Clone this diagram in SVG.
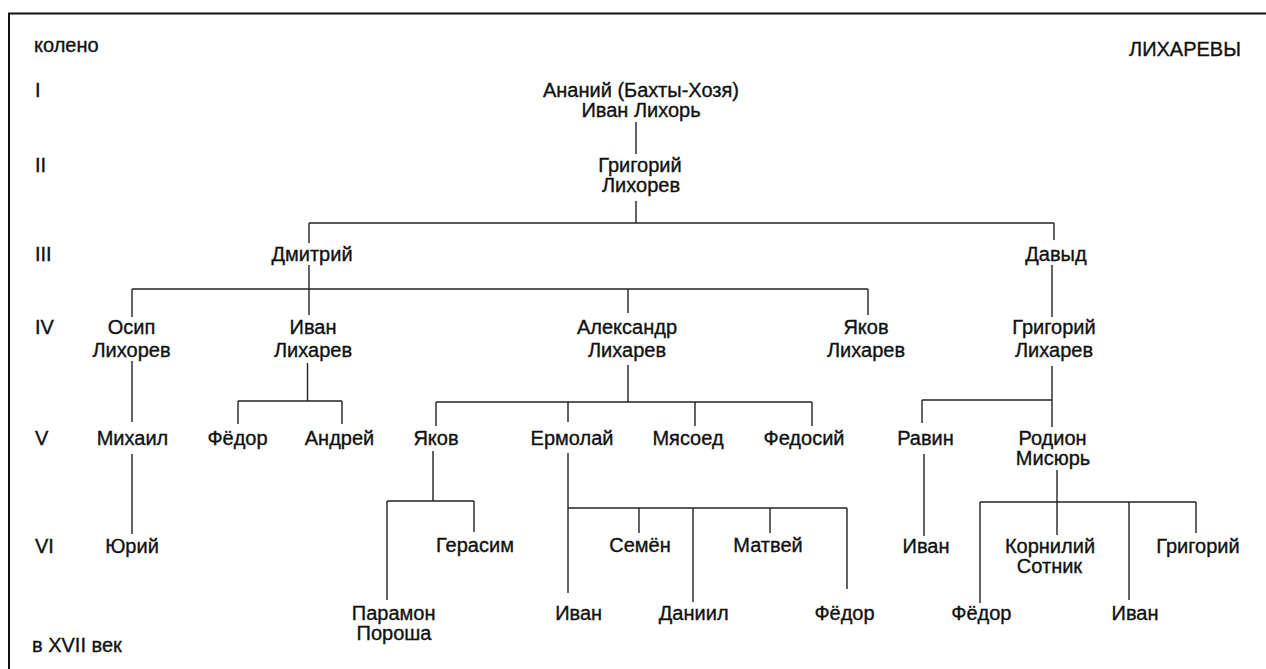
<svg xmlns="http://www.w3.org/2000/svg" width="1266" height="669" viewBox="0 0 1266 669">
<style>
text{font-family:"Liberation Sans",Arial,sans-serif;font-size:20px;fill:#111;stroke:#111;stroke-width:0.35}
.n text{text-anchor:middle}
.lab{text-anchor:start}
#connectors line{stroke:#222;stroke-width:1.4;fill:none}
.frame{stroke:#111;stroke-width:2;fill:none}
</style>
<rect width="1266" height="669" fill="#fff"/>
<path class="frame" d="M9,669 V13.5 H1266"/>
<g id="labels">
<text class="lab" x="34" y="52">колено</text>
<text class="lab" x="35" y="97">I</text>
<text class="lab" x="35" y="172">II</text>
<text class="lab" x="35" y="261">III</text>
<text class="lab" x="35" y="334">IV</text>
<text class="lab" x="35" y="445">V</text>
<text class="lab" x="35" y="553">VI</text>
<text class="lab" x="32" y="652">в XVII век</text>
<text class="lab" x="1129" y="56">ЛИХАРЕВЫ</text>
</g>
<g id="connectors">
<line x1="636" y1="122" x2="636" y2="154"/>
<line x1="636" y1="201" x2="636" y2="223"/>
<line x1="309" y1="223" x2="1054" y2="223"/>
<line x1="309" y1="223" x2="309" y2="243"/>
<line x1="309" y1="265" x2="309" y2="315"/>
<line x1="1054" y1="223" x2="1054" y2="240"/>
<line x1="1052" y1="265" x2="1052" y2="317"/>
<line x1="132" y1="289" x2="868" y2="289"/>
<line x1="132" y1="289" x2="132" y2="317"/>
<line x1="628" y1="289" x2="628" y2="313"/>
<line x1="868" y1="289" x2="868" y2="315"/>
<line x1="132" y1="361" x2="132" y2="422"/>
<line x1="307.5" y1="363" x2="307.5" y2="401"/>
<line x1="238" y1="401" x2="342" y2="401"/>
<line x1="238" y1="401" x2="238" y2="424"/>
<line x1="342" y1="401" x2="342" y2="424"/>
<line x1="628" y1="365" x2="628" y2="402"/>
<line x1="436" y1="402" x2="812" y2="402"/>
<line x1="436" y1="402" x2="436" y2="426"/>
<line x1="568" y1="402" x2="568" y2="422"/>
<line x1="695" y1="402" x2="695" y2="426"/>
<line x1="812" y1="402" x2="812" y2="426"/>
<line x1="1052" y1="366" x2="1052" y2="427"/>
<line x1="922" y1="400" x2="1052" y2="400"/>
<line x1="922" y1="400" x2="922" y2="423"/>
<line x1="132" y1="454" x2="132" y2="534"/>
<line x1="433" y1="451" x2="433" y2="501"/>
<line x1="387" y1="501" x2="474" y2="501"/>
<line x1="387" y1="501" x2="387" y2="600"/>
<line x1="474" y1="501" x2="474" y2="532"/>
<line x1="568" y1="453" x2="568" y2="593"/>
<line x1="568" y1="508" x2="847" y2="508"/>
<line x1="639" y1="508" x2="639" y2="533"/>
<line x1="693" y1="508" x2="693" y2="602"/>
<line x1="770" y1="508" x2="770" y2="533"/>
<line x1="847" y1="508" x2="847" y2="589"/>
<line x1="924" y1="454" x2="924" y2="536"/>
<line x1="1057" y1="470" x2="1057" y2="502"/>
<line x1="980" y1="502" x2="1196" y2="502"/>
<line x1="980" y1="502" x2="980" y2="603"/>
<line x1="1057" y1="502" x2="1057" y2="535"/>
<line x1="1129" y1="502" x2="1129" y2="600"/>
<line x1="1196" y1="502" x2="1196" y2="533"/>
</g>
<g id="ananiy" class="n"><text x="641" y="97">Ананий (Бахты-Хозя)<tspan x="641" dy="20">Иван Лихорь</tspan></text></g>
<g id="grigoriy1" class="n"><text x="640" y="171.5">Григорий<tspan x="641" dy="20">Лихорев</tspan></text></g>
<g id="dmitriy" class="n"><text x="312" y="261">Дмитрий</text></g>
<g id="davyd" class="n"><text x="1056" y="261">Давыд</text></g>
<g id="osip" class="n"><text x="131.5" y="334">Осип<tspan x="131.5" dy="23">Лихорев</tspan></text></g>
<g id="ivan4" class="n"><text x="313" y="334">Иван<tspan x="313" dy="23">Лихарев</tspan></text></g>
<g id="aleksandr" class="n"><text x="627" y="334">Александр<tspan x="627" dy="23">Лихарев</tspan></text></g>
<g id="yakov4" class="n"><text x="866" y="334">Яков<tspan x="866" dy="23">Лихарев</tspan></text></g>
<g id="grigoriy4" class="n"><text x="1054" y="334">Григорий<tspan x="1054" dy="23">Лихарев</tspan></text></g>
<g id="mikhail" class="n"><text x="132.5" y="445">Михаил</text></g>
<g id="fedor5" class="n"><text x="237.5" y="445">Фёдор</text></g>
<g id="andrey" class="n"><text x="339.5" y="445">Андрей</text></g>
<g id="yakov5" class="n"><text x="436" y="445">Яков</text></g>
<g id="ermolay" class="n"><text x="572" y="445">Ермолай</text></g>
<g id="myasoed" class="n"><text x="688" y="445">Мясоед</text></g>
<g id="fedosiy" class="n"><text x="804" y="445">Федосий</text></g>
<g id="ravin" class="n"><text x="925.5" y="445">Равин</text></g>
<g id="rodion" class="n"><text x="1052.5" y="445">Родион<tspan x="1053" dy="20">Мисюрь</tspan></text></g>
<g id="yuriy" class="n"><text x="132" y="553">Юрий</text></g>
<g id="gerasim" class="n"><text x="475" y="552">Герасим</text></g>
<g id="semen" class="n"><text x="640" y="552">Семён</text></g>
<g id="matvey" class="n"><text x="768" y="552">Матвей</text></g>
<g id="ivan6a" class="n"><text x="926" y="553">Иван</text></g>
<g id="korniliy" class="n"><text x="1050" y="552.5">Корнилий<tspan x="1049.5" dy="20">Сотник</tspan></text></g>
<g id="grigoriy6" class="n"><text x="1198" y="553">Григорий</text></g>
<g id="paramon" class="n"><text x="393.7" y="619.5">Парамон<tspan x="394" dy="20">Пороша</tspan></text></g>
<g id="ivan6b" class="n"><text x="578.7" y="620">Иван</text></g>
<g id="daniil" class="n"><text x="693.7" y="620">Даниил</text></g>
<g id="fedor6a" class="n"><text x="844.5" y="620">Фёдор</text></g>
<g id="fedor6b" class="n"><text x="981.3" y="620">Фёдор</text></g>
<g id="ivan6c" class="n"><text x="1135" y="620">Иван</text></g>
</svg>
